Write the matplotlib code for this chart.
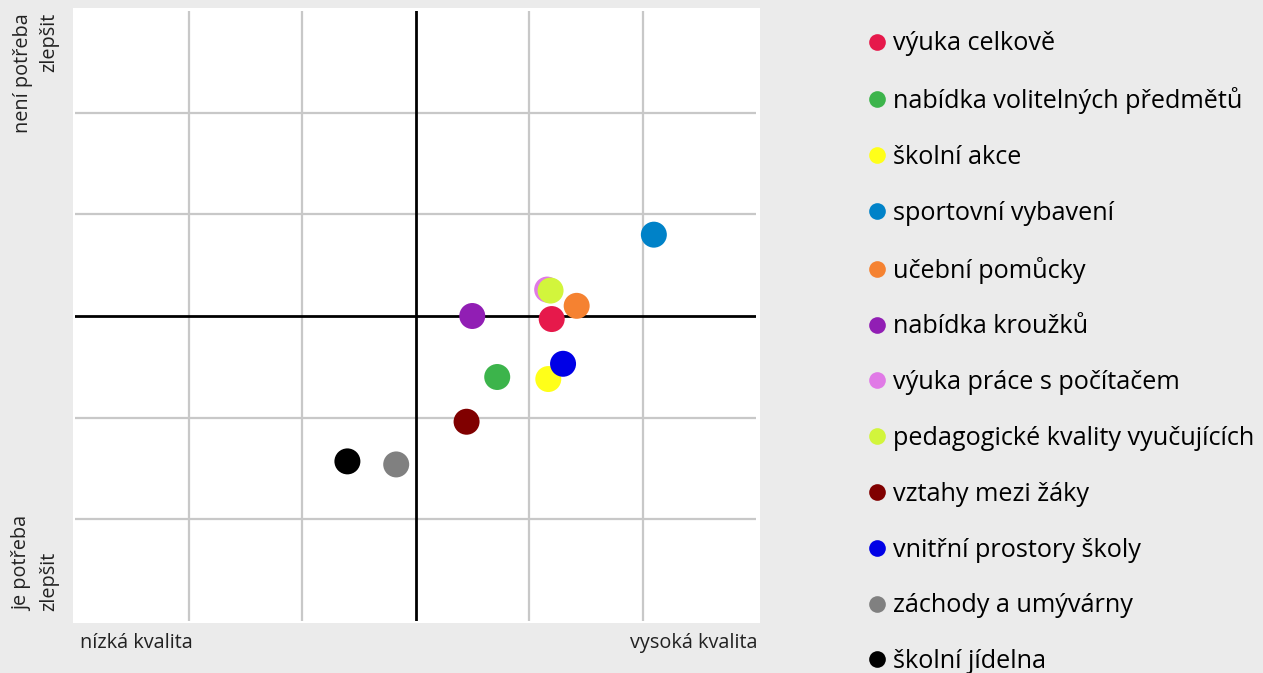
import matplotlib
matplotlib.use("Agg")
import matplotlib.pyplot as plt
from matplotlib.patches import Rectangle
from matplotlib.lines import Line2D

labels = ["výuka celkově", "nabídka volitelných předmětů", "školní akce",
          "sportovní vybavení", "učební pomůcky", "nabídka kroužků",
          "výuka práce s počítačem", "pedagogické kvality vyučujících",
          "vztahy mezi žáky", "vnitřní prostory školy", "záchody a umývárny",
          "školní jídelna"]
quality = [1.20, 0.72, 1.17, 2.10, 1.42, 0.50, 1.16, 1.19, 0.45, 1.30, -0.17, -0.60]
need = [-0.03, -0.60, -0.62, 0.80, 0.10, 0.00, 0.26, 0.25, -1.04, -0.47, -1.46, -1.43]
colors = ["#e6194b", "#3cb44b", "#ffff19", "#0082c8", "#f58231", "#911eb4",
          "#e07ae6", "#d2f53c", "#800000", "#0000e6", "#808080", "#000000"]
grid_ticks = [-2, -1, 1, 2]

plt.rcParams['font.family'] = ['Open Sans', 'DejaVu Sans']

W, H = 1263, 673
fig = plt.figure(figsize=(W / 100, H / 100), dpi=100)
fig.patch.set_facecolor("#ebebeb")

# white panel behind plot area
fig.patches.append(Rectangle((73 / W, 1 - 623 / H), (760 - 73) / W, (623 - 8) / H,
                             transform=fig.transFigure, facecolor="white",
                             edgecolor="none", zorder=-5))

ax = fig.add_axes([75 / W, 1 - 621 / H, (756 - 75) / W, (621 - 11) / H])
ax.set_zorder(1)
ax.set_facecolor("white")
ax.set_xlim(-3, 3)
ax.set_ylim(-3, 3)
for s in ax.spines.values():
    s.set_visible(False)
ax.set_xticks([])
ax.set_yticks([])

for t in grid_ticks:
    ax.axvline(t, color="#c8c8c8", lw=1.6, zorder=1)
    ax.axhline(t, color="#c8c8c8", lw=1.6, zorder=1)
ax.axvline(0, color="black", lw=2, zorder=2)
ax.axhline(0, color="black", lw=2, zorder=2)

for x, y, c, l in zip(quality, need, colors, labels):
    ax.scatter([x], [y], s=350, color=c, edgecolors="none", zorder=3, label=l)

handles = [Line2D([0], [0], marker='o', linestyle='none', markersize=12,
                  markerfacecolor=c, markeredgecolor='none') for c in colors]
fig.legend(handles, labels, loc="upper left", bbox_to_anchor=(864.4 / W, 1 - 31.5 / H),
           frameon=False, fontsize=18.2, handletextpad=0.13, labelspacing=1.218,
           handlelength=1.0, borderaxespad=0, borderpad=0)

fig.text(36 / W, 1 - 13 / H, "není potřeba\nzlepšit", rotation=90, ha="center", va="top",
         multialignment="right", fontsize=14.3, color="#222222", linespacing=1.45)
fig.text(36 / W, 1 - 611 / H, "je potřeba\nzlepšit", rotation=90, ha="center", va="bottom",
         multialignment="left", fontsize=14.3, color="#222222", linespacing=1.45)
fig.text(80 / W, 1 - 643 / H, "nízká kvalita", ha="left", va="center", fontsize=14.3,
         color="#222222")
fig.text(757 / W, 1 - 643 / H, "vysoká kvalita", ha="right", va="center", fontsize=14.3,
         color="#222222")

fig.savefig("out.png", dpi=100, facecolor=fig.get_facecolor())
